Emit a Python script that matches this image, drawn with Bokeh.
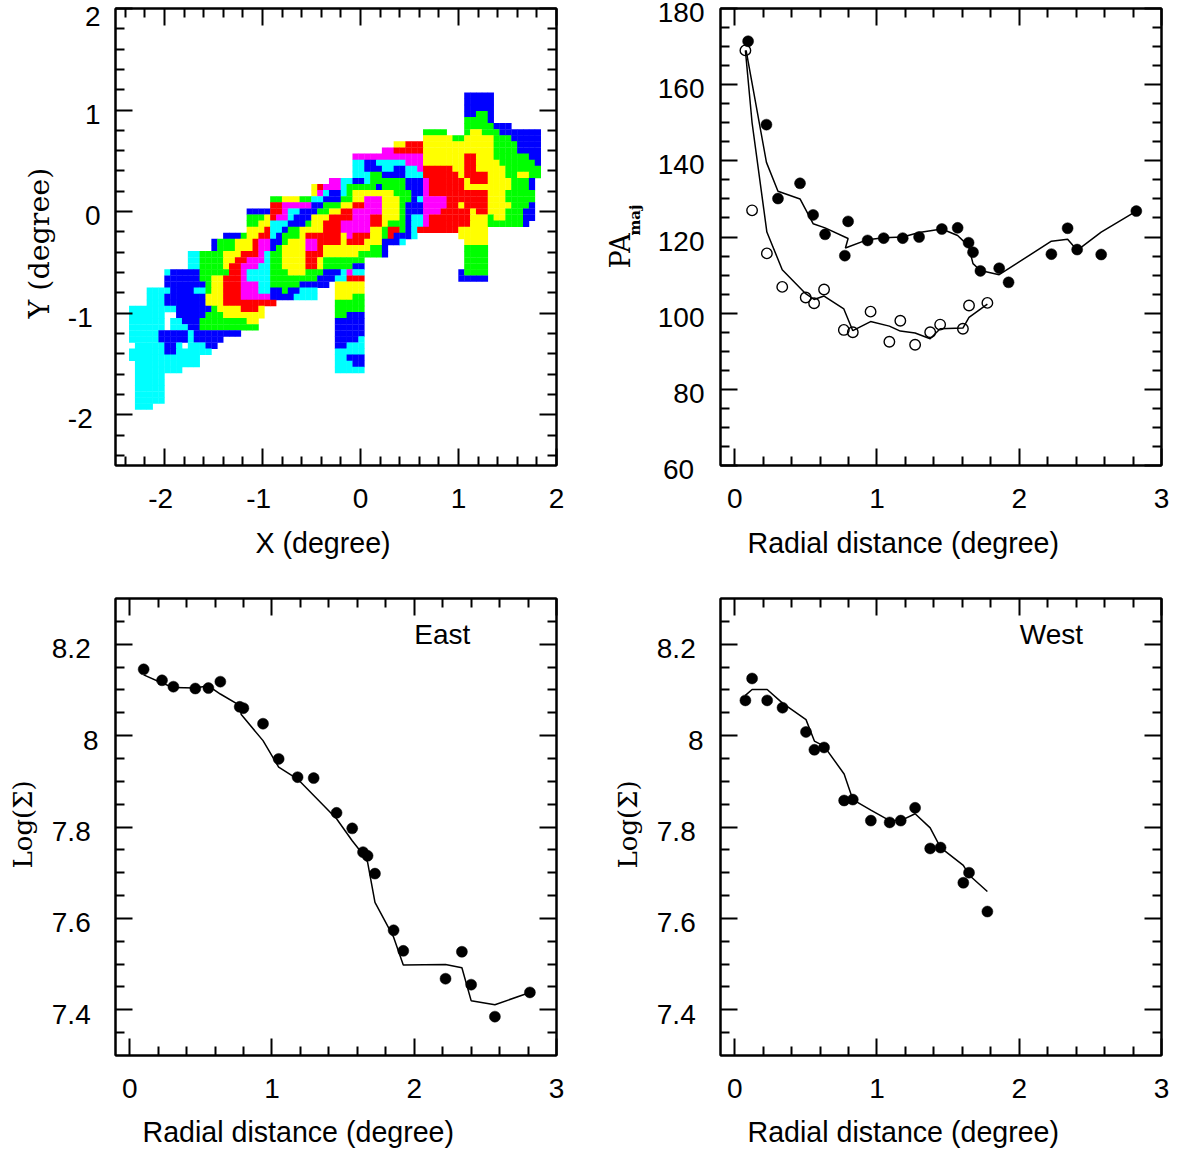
from bokeh.embed import file_html
from bokeh.resources import INLINE
from bokeh.plotting import figure
from bokeh.layouts import column, row
from bokeh.models import ColumnDataSource, Div, FixedTicker, Label, LinearAxis, Range1d, Title

# ---------- map: occupied cells, by row, with the colour class of each column run
MAP_X0, MAP_Y0, MAP_DX, MAP_DY = -2.45, 1.2, 0.06, 0.06
MAP_COLORS = {"B": "#0000ff", "C": "#00ffff", "G": "#00ff00", "Y": "#ffff00", "R": "#ff0000", "M": "#ff00ff"}
MAP_ROWS = [
 (1, "B59-63"), (2, "B59-63"), (3, "B59-63"),
 (4, "B59-60 G61-62 B63"),
 (5, "G59-62 B63"),
 (6, "G59-63 B64-66"),
 (7, "G52-55 G59 Y60-61 G62-64 B65-71"),
 (8, "Y52-56 G57-58 Y59-63 G64-66 B67-71"),
 (9, "Y47-48 R49-51 Y52-63 G64-67 B68-71"),
 (10, "M45-46 R47-51 Y52-63 G64-67 B68-71"),
 (11, "M40-51 Y52-58 R59-60 Y61-63 G64-69 B70-71"),
 (12, "C40-41 B42-43 C44-48 M49-51 Y52-58 R59-60 Y61-64 G65-70 B71"),
 (13, "C40-41 B42-44 C45-46 B47-48 C49-50 M51 R52-56 Y57-58 R59-60 Y61-65 G66-71"),
 (14, "C40-42 G43-44 B45-48 C49-51 R52-57 Y58 R59-62 Y63-65 G66-67 Y68-69 G70-71"),
 (15, "M36-37 C38-39 B40-41 C42 G43-48 B49-51 M52 R53-58 Y59 R60-62 Y63-66 G67-69 B70"),
 (16, "Y33 R34 M35-37 C38 G39-43 B44 G45-48 B49-51 M52 R53-58 Y59-66 G67-69 B70"),
 (17, "Y33 M34 C35 B36-37 C38 G39 Y40-46 G47-49 B50-51 M52 R53-62 Y63-65 G66-70"),
 (18, "G26-27 Y28-30 G31-32 C33-34 B35-37 G38-39 Y40-41 M42-44 Y45-47 G48-49 B50 C51 M52-55 R56-62 Y63-65 G66-70"),
 (19, "R26-27 M28-32 B33-34 G35-37 Y38-39 R40-41 M42-44 Y45-47 G48 B49-51 M52-55 R56-57 Y58 R59-62 Y63-66 G67-69 B70"),
 (20, "B22-25 R26-27 M28 C29-30 B31-33 G34-35 Y36-37 R38-39 M40-44 Y45-47 G48 B49-51 M52-54 R55-59 Y60 R61-62 Y63-65 G66-68 B69-70"),
 (21, "G22-24 Y25 R26 M27-28 C29 B30-32 Y33-35 R36-39 M40-42 R43-44 Y45-47 G48 B49 C50-51 M52 R53-59 Y60-62 G63 Y64-65 G66-68 B69-70"),
 (22, "G22-23 Y24-25 C26-28 B29-31 G32 Y33-34 R35-37 M38-42 R43-44 Y45 G46-48 B49 C50-51 M52 R53-59 Y60-62 G63-68 B69"),
 (23, "Y22-24 R25 C26-27 B28 G29-30 Y31-34 R35-37 M38-42 Y43-44 G45 R46-47 G48 B49 C50 R51-57 Y58-62"),
 (24, "B18-20 G21 Y22-23 R24-25 C26 B27 G28-30 Y31 R32-37 Y38 M39 R40-42 Y43-44 G45 R46 B47-49 C50 Y58-62"),
 (25, "B16 G17-19 Y20-22 R23 M24-25 B26-27 G28 Y29-31 M32-33 R34-37 Y38 R39-41 Y42-44 B45-47 C48 Y59-62"),
 (26, "B16 G17-19 Y20-22 R23 M24-25 B26 G27 Y28-31 M32-33 R34 Y35-42 G43-44 B45 G59-62"),
 (27, "C12-13 G14-17 Y18-20 R21-23 M24 C25 G26-27 Y28-31 R32-34 Y35-40 G41-44 B45 G59-62"),
 (28, "C12-13 G14-17 Y18-19 R20-21 M22-24 C25 G26-27 Y28-31 R32-33 Y34 G35-41 G59-62"),
 (29, "C12-13 G14-17 Y18 R19-20 M21-23 C24-25 G26-27 Y28-31 R32-33 Y34 G35-39 B40-41 G59-62"),
 (30, "C8 B9-13 G14-18 R19-20 M21 C22-25 G26-28 Y29-31 G32-34 B35-37 C38 M39 C40-41 B58 G59-62"),
 (31, "B8-13 G14-15 Y16-17 R18-20 M21 C22-25 G26-33 B34-36 C37-38 R39-41 B58-62"),
 (32, "B8-14 G15 Y16-17 R18-20 M21-23 C24-25 G26-30 B31-35 Y37-41"),
 (33, "C5-8 B9-12 C13-14 G15 Y16-17 R18-20 M21-23 C24-25 B26-27 G28 B29-30 C31-33 Y37-41"),
 (34, "C5-7 B8-14 Y15-17 R18-20 M21-25 B26-29 C30-33 Y37-39 G40-41"),
 (35, "C5-7 B8-14 Y15-17 R18-26 G37-41"),
 (36, "C2-9 B10-15 G16 Y17-20 R21-23 Y24 G37-41"),
 (37, "C2-7 B10-14 G15-17 Y18-24 G37-38 B39-41"),
 (38, "C2-7 C9-10 B11-13 G14-21 Y22-23 B37-41"),
 (39, "C2-7 C9-11 B12-13 G14-23 B37-41"),
 (40, "C2-6 B7-11 C12 B13-20 B37-41"),
 (41, "C2-6 B7-11 C12 B13-17 B37-40 C41"),
 (42, "C3-7 B8-9 C10 C12-14 B15-16 B37-38 C39-41"),
 (43, "C2-7 B8-9 C10-15 C37-41"),
 (44, "C2-13 C37-38 B39-41"),
 (45, "C3-13 C37-39 B40-41"),
 (46, "C3-10 C37-41"),
 (47, "C3-7"), (48, "C3-7"), (49, "C3-7"), (50, "C3-7"), (51, "C3-7"), (52, "C3-5"),
]

# ---------- position angle vs radius
pa_east_r = [0.094, 0.223, 0.304, 0.459, 0.551, 0.635, 0.774, 0.797, 0.934, 1.047, 1.181, 1.296, 1.456, 1.567, 1.644, 1.675, 1.727, 1.859, 1.925, 2.226, 2.34, 2.407, 2.576, 2.823]
pa_east = [171.4, 149.5, 130.1, 134.1, 125.8, 120.7, 115.1, 124.1, 119.1, 119.7, 119.7, 120.0, 122.1, 122.4, 118.5, 116.0, 111.1, 111.8, 108.1, 115.5, 122.3, 116.7, 115.4, 126.8]
pa_east_fit_r = [0.08, 0.223, 0.304, 0.459, 0.551, 0.635, 0.797, 0.778, 0.934, 1.047, 1.181, 1.296, 1.456, 1.567, 1.644, 1.675, 1.727, 1.859, 2.226, 2.34, 2.407, 2.576, 2.823]
pa_east_fit = [169, 139.6, 132.0, 130.0, 123.5, 122.4, 119.6, 117.1, 119.3, 119.8, 120.0, 121.2, 122.1, 120.4, 117.6, 113.0, 111.2, 110.1, 118.9, 119.4, 116.5, 121.3, 126.8]
pa_west_r = [0.075, 0.122, 0.226, 0.334, 0.499, 0.558, 0.628, 0.767, 0.83, 0.955, 1.087, 1.164, 1.268, 1.374, 1.444, 1.604, 1.647, 1.776]
pa_west = [169.0, 127.0, 115.7, 106.9, 104.1, 102.6, 106.2, 95.6, 95.0, 100.4, 92.5, 98.0, 91.7, 95.0, 97.0, 95.9, 102.0, 102.7]
pa_west_fit = [169.0, 150.0, 121.3, 111.4, 105.1, 103.6, 104.5, 101.1, 95.4, 97.8, 96.6, 95.3, 94.8, 93.3, 95.9, 96.1, 98.9, 102.4]

# ---------- surface density, east
east_r = [0.098, 0.227, 0.307, 0.461, 0.553, 0.637, 0.773, 0.799, 0.937, 1.047, 1.18, 1.293, 1.454, 1.564, 1.64, 1.672, 1.724, 1.855, 1.923, 2.22, 2.335, 2.40, 2.567, 2.813]
east_sigma = [8.145, 8.121, 8.107, 8.103, 8.104, 8.118, 8.063, 8.060, 8.026, 7.949, 7.909, 7.907, 7.831, 7.797, 7.745, 7.737, 7.698, 7.574, 7.529, 7.468, 7.527, 7.455, 7.385, 7.438]
east_fit_r = [0.098, 0.227, 0.307, 0.461, 0.553, 0.637, 0.773, 0.784, 0.937, 1.047, 1.18, 1.454, 1.564, 1.64, 1.672, 1.724, 1.855, 1.923, 2.22, 2.335, 2.40, 2.567, 2.813]
east_fit = [8.133, 8.115, 8.105, 8.104, 8.109, 8.091, 8.066, 8.046, 7.989, 7.931, 7.905, 7.818, 7.770, 7.740, 7.723, 7.635, 7.559, 7.498, 7.499, 7.492, 7.420, 7.411, 7.438]

# ---------- surface density, west
west_r = [0.075, 0.122, 0.228, 0.336, 0.501, 0.56, 0.628, 0.769, 0.83, 0.957, 1.089, 1.167, 1.268, 1.374, 1.447, 1.607, 1.647, 1.776]
west_sigma = [8.077, 8.125, 8.077, 8.061, 8.008, 7.969, 7.974, 7.858, 7.860, 7.814, 7.810, 7.814, 7.842, 7.753, 7.755, 7.678, 7.700, 7.615]
west_fit = [8.088, 8.101, 8.101, 8.071, 8.035, 7.988, 7.977, 7.916, 7.860, 7.837, 7.814, 7.814, 7.829, 7.798, 7.755, 7.716, 7.695, 7.659]

# ---------- axis ticks
map_ticks = [-2, -1, 0, 1, 2]
map_minor = [-2.4, -2.2, -1.8, -1.6, -1.4, -1.2, -0.8, -0.6, -0.4, -0.2, 0.2, 0.4, 0.6, 0.8, 1.2, 1.4, 1.6, 1.8]
r_ticks = [0, 1, 2, 3]
r_minor = [0.2, 0.4, 0.6, 0.8, 1.2, 1.4, 1.6, 1.8, 2.2, 2.4, 2.6, 2.8]
pa_ticks = [60, 80, 100, 120, 140, 160, 180]
pa_minor = [65, 70, 75, 85, 90, 95, 105, 110, 115, 125, 130, 135, 145, 150, 155, 165, 170, 175]
sig_ticks = [7.4, 7.6, 7.8, 8.0, 8.2]
sig_minor = [7.35, 7.45, 7.5, 7.55, 7.65, 7.7, 7.75, 7.85, 7.9, 7.95, 8.05, 8.1, 8.15, 8.25]

NB = "\u00a0"
SANS = "Liberation Sans"
SERIF = "DejaVu Serif"
TICK_SIZE = "28px"
TITLE_SIZE = "28.6px"
FW, FH = 441, 457
L_B = 125


def panel(xr, yr, xt, xm, yt, ym, lab_ticks, fig_w, top, bottom, x_over, y_over, ystand, shift=4, xstand=23):
    p = figure(frame_width=FW, frame_height=FH, width=fig_w, height=top + FH + bottom,
               x_range=Range1d(*xr), y_range=Range1d(*yr), output_backend="svg", toolbar_location=None,
               min_border_left=L_B, min_border_right=fig_w - L_B - FW, min_border_top=top, min_border_bottom=bottom,
               x_axis_type=None, y_axis_type=None, background_fill_color="white", border_fill_color=None)
    p.grid.visible = False
    p.outline_line_color = "black"
    p.outline_line_width = 2

    def style(ax, ticks, minor, labelled=False, over=None, standoff=0):
        ax.ticker = FixedTicker(ticks=ticks, minor_ticks=minor)
        ax.axis_line_color = "black"
        ax.axis_line_width = 2
        ax.major_tick_in, ax.major_tick_out = 17, 0
        ax.minor_tick_in, ax.minor_tick_out = 9, 0
        ax.major_tick_line_width = ax.minor_tick_line_width = 2
        ax.major_tick_line_color = ax.minor_tick_line_color = "black"
        ax.major_label_standoff = standoff
        if labelled:
            ax.major_label_text_font = SANS
            ax.major_label_text_font_size = TICK_SIZE
            ax.major_label_text_color = "black"
            ax.major_label_overrides = over or {}
        else:
            ax.major_label_text_font_size = "0px"
            ax.major_label_text_color = None

    bottom_ax = LinearAxis()
    style(bottom_ax, xt, xm, True, x_over, xstand)
    p.add_layout(bottom_ax, "below")
    for loc, tk, mn in (("above", xt, xm), ("left", yt, ym), ("right", yt, ym)):
        a = LinearAxis()
        style(a, tk, mn)
        p.add_layout(a, loc)

    # y tick labels sit slightly below their ticks: a label-only axis on a shifted range
    d = shift * (yr[1] - yr[0]) / FH
    p.extra_y_ranges = {"labels": Range1d(yr[0] + d, yr[1] + d)}
    lab = LinearAxis(y_range_name="labels")
    style(lab, lab_ticks, [], True, y_over, ystand)
    lab.axis_line_color = None
    lab.major_tick_line_color = None
    lab.minor_tick_line_color = None
    lab.major_tick_in = 0
    lab.minor_tick_in = 0
    p.add_layout(lab, "left")
    return p


def title(p, side, s, offset, standoff, size=TITLE_SIZE, font=SANS, style="normal"):
    p.add_layout(Title(text=s, align="left", offset=offset, standoff=standoff, text_font=font,
                       text_font_size=size, text_font_style=style, text_color="black"), side)


def dots(p, xs, ys, fit_x, fit_y):
    p.line(fit_x, fit_y, line_color="black", line_width=1.5)
    p.scatter(xs, ys, size=11, fill_color="black", line_color="black", line_width=0.5)


# ---------- panel 1: map
x1, y1 = (-2.5, 2.0), (-2.5, 2.0)
p1 = panel(x1, y1, map_ticks, map_minor, map_ticks, map_minor, map_ticks, 605, 8, 125,
           {-2: "-2" + NB, -1: "-1" + NB, 0: "0", 1: "1", 2: "2"},
           {-2: "-2" + NB, -1: "-1" + NB, 0: "0", 1: "1", 2: "2"}, 15, xstand=17)
cx, cy, cc = [], [], []
for j, spec in MAP_ROWS:
    for run in spec.split():
        code, span = run[0], run[1:]
        a, _, b = span.partition("-")
        for i in range(int(a), int(b or a) + 1):
            cx.append(MAP_X0 + i * MAP_DX)
            cy.append(MAP_Y0 - j * MAP_DY)
            cc.append(MAP_COLORS[code])
p1.rect(x="x", y="y", width=MAP_DX * 1.06, height=MAP_DY * 1.06, fill_color="c", line_color=None,
        source=ColumnDataSource(dict(x=cx, y=cy, c=cc)))
title(p1, "below", "X (degree)", 140, 16)
title(p1, "left", "Y (degree)", 147, 18, "28.5px", SERIF)

# ---------- panel 2: position angle
x2, y2 = (-0.1, 3.0), (60, 180)
r_over = {0: "0", 1: "1", 2: "2", 3: "3"}
p2 = panel(x2, y2, r_ticks, r_minor, pa_ticks, pa_minor, pa_ticks[1:], 580, 8, 125,
           r_over, {v: str(v) for v in pa_ticks}, 16)
dots(p2, pa_east_r, pa_east, pa_east_fit_r, pa_east_fit)
p2.line(pa_west_r, pa_west_fit, line_color="black", line_width=1.5)
p2.scatter(pa_west_r, pa_west, size=10.5, fill_color=None, line_color="black", line_width=1.4)
title(p2, "below", "Radial distance (degree)", 27, 29)
title(p2, "left", "maj", 230, 21, "15px", SERIF, "bold")
title(p2, "left", "PA", 197, -45, "27px", SERIF)
# the lowest tick label lies below the frame, past the end of the shifted label axis
bottom_tick_label = Div(text=str(pa_ticks[0]), width=40, height=30, margin=(0, 0, 0, 0),
                        styles={"position": "absolute", "left": "673px", "top": "456px", "font-family": SANS,
                                "font-size": TICK_SIZE, "line-height": "28px", "color": "black", "z-index": "5"})

# ---------- panel 3: east
x3, y3 = (-0.1, 3.0), (7.3, 8.3)
sig_over = {7.4: "7.4" + NB, 7.6: "7.6" + NB, 7.8: "7.8" + NB, 8.0: "8", 8.2: "8.2" + NB}
p3 = panel(x3, y3, r_ticks, r_minor, sig_ticks, sig_minor, sig_ticks, 605, 8, 95, r_over, sig_over, 17, 4.5)
dots(p3, east_r, east_sigma, east_fit_r, east_fit)
p3.add_layout(Label(x=2.0, y=8.221, text="East", text_font=SANS, text_font_size="28px", text_baseline="middle", text_color="black"))
title(p3, "below", "Radial distance (degree)", 27, 27)
title(p3, "left", "Log(\u03a3)", 187, 21, "26px", SERIF)

# ---------- panel 4: west
p4 = panel(x3, y3, r_ticks, r_minor, sig_ticks, sig_minor, sig_ticks, 580, 8, 95, r_over, sig_over, 17, 4.5)
dots(p4, west_r, west_sigma, west_r, west_fit)
p4.add_layout(Label(x=2.004, y=8.221, text="West", text_font=SANS, text_font_size="28px", text_baseline="middle", text_color="black"))
title(p4, "below", "Radial distance (degree)", 27, 27)
title(p4, "left", "Log(\u03a3)", 187, 21, "26px", SERIF)

page = column(row(p1, p2), row(p3, p4), bottom_tick_label, margin=(0, 0, 0, -10))
open("out.html", "w").write(file_html(page, INLINE))
